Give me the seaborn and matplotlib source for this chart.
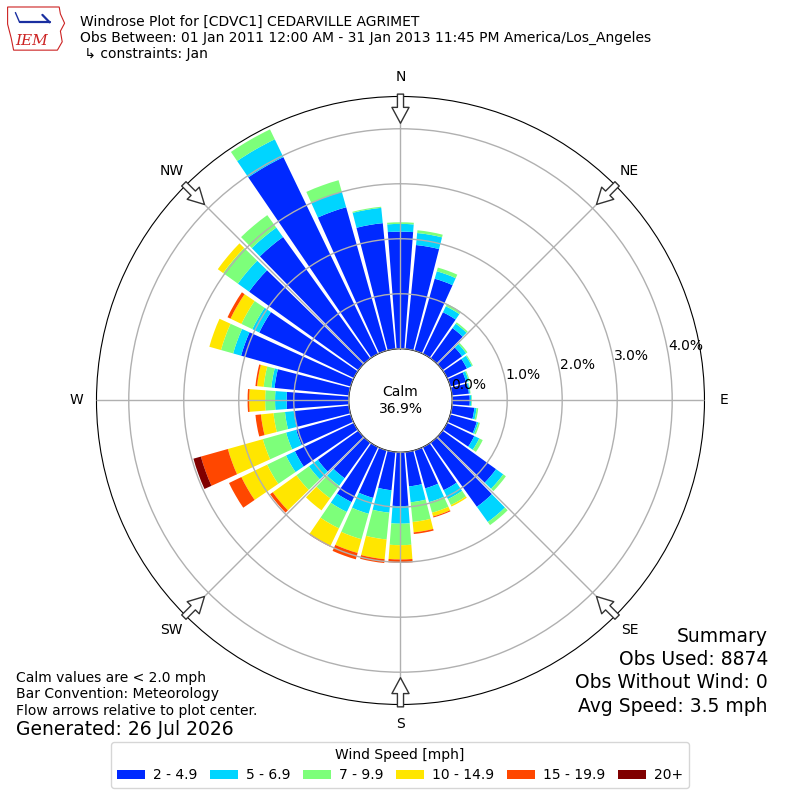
import numpy as np
import matplotlib
matplotlib.use("Agg")
import matplotlib.pyplot as plt
from matplotlib.patches import Polygon
import seaborn as sns

# wind directions (deg, meteorological) and speed bins
directions = list(range(0, 360, 10))
speed_bins = ["2 - 4.9", "5 - 6.9", "7 - 9.9", "10 - 14.9", "15 - 19.9", "20+"]

# percent of observations per direction for each speed bin
pct_2_5 = [2.13, 1.90, 1.36, 0.84, 0.68, 0.44, 0.40, 0.30, 0.31, 0.32, 0.41, 0.50,
           0.55, 1.20, 1.44, 0.87, 0.72, 0.63, 0.98, 0.70, 0.90, 1.11, 0.80, 0.91,
           1.19, 1.03, 1.01, 1.13, 1.36, 2.07, 1.91, 2.45, 2.72, 3.97, 2.71, 2.30]
pct_5_7 = [0.14, 0.22, 0.14, 0.12, 0.10, 0.09, 0.10, 0.05, 0.02, 0.03, 0.04, 0.03,
           0.10, 0.16, 0.34, 0.18, 0.26, 0.29, 0.32, 0.41, 0.30, 0.20, 0.17, 0.20,
           0.18, 0.19, 0.16, 0.21, 0.06, 0.15, 0.14, 0.25, 0.21, 0.36, 0.29, 0.28]
pct_7_10 = [0.03, 0.05, 0.07, 0.05, 0.03, 0.03, 0.02, 0.02, 0.01, 0.01, 0.03, 0.03,
            0.07, 0.06, 0.07, 0.12, 0.20, 0.36, 0.39, 0.49, 0.48, 0.33, 0.28, 0.28,
            0.38, 0.44, 0.21, 0.18, 0.14, 0.23, 0.22, 0.33, 0.28, 0.20, 0.22, 0.02]
pct_10_15 = [0, 0, 0, 0, 0, 0, 0, 0, 0, 0, 0, 0,
             0, 0, 0, 0.03, 0.07, 0.19, 0.26, 0.36, 0.26, 0.35, 0.27, 0.53,
             0.52, 0.66, 0.23, 0.29, 0.12, 0.22, 0.22, 0.12, 0, 0, 0, 0]
pct_15_20 = [0, 0, 0, 0, 0, 0, 0, 0, 0, 0, 0, 0,
             0, 0, 0, 0, 0.02, 0.03, 0.06, 0.07, 0.12, 0.02, 0, 0.06,
             0.25, 0.51, 0.10, 0.03, 0.03, 0, 0.06, 0, 0, 0, 0, 0]
pct_20p = [0, 0, 0, 0, 0, 0, 0, 0, 0, 0, 0, 0,
           0, 0, 0, 0, 0, 0, 0, 0, 0, 0, 0, 0,
           0, 0.14, 0, 0, 0, 0, 0, 0, 0, 0, 0, 0]

calm_pct = 36.9
obs_used = 8874
obs_without_wind = 0
avg_speed = 3.5

compass = ["N", "NE", "E", "SE", "S", "SW", "W", "NW"]

sns.set_style("white")
plt.rcParams["font.family"] = ["DejaVu Sans"]
plt.rcParams["text.color"] = "black"
plt.rcParams["xtick.color"] = "black"
plt.rcParams["ytick.color"] = "black"

colors = plt.get_cmap("jet")(np.linspace(0, 1, 7)[1:])
series = [pct_2_5, pct_5_7, pct_7_10, pct_10_15, pct_15_20, pct_20p]

fig = plt.figure(figsize=(8, 8), dpi=100)
ax = fig.add_axes([0.1206, 0.1194, 0.76, 0.76], projection="polar")
ax.set_theta_zero_location("N")
ax.set_theta_direction(-1)
ax.set_axisbelow(False)

theta = np.deg2rad(directions)
bottom = np.zeros(len(directions))
handles = []
for vals, col, lab in zip(series, colors, speed_bins):
    vals = np.array(vals)
    b = ax.bar(theta, vals, width=np.deg2rad(8.6), bottom=bottom, color=col,
               linewidth=0, label=lab, zorder=2)
    handles.append(b)
    bottom += vals

ax.set_ylim(0, 4.587)
ax.set_rorigin(-0.94)
ax.set_yticks([0, 1, 2, 3, 4])
ax.set_yticklabels([f"{v:.1f}%" for v in [0, 1, 2, 3, 4]], fontsize=10)
ax.set_rlabel_position(80)
ax.set_xticks(np.deg2rad(np.arange(0, 360, 45)))
ax.set_xticklabels([])
ax.grid(True, color="#b0b0b0", lw=1)
ax.spines["polar"].set_color("black")
ax.spines["inner"].set_color("black")

# direction labels and inward flow arrows
for i, name in enumerate(compass):
    th = np.deg2rad(i * 45)
    ax.text(th, 4.95, name, ha="center", va="center", fontsize=10)
    ax.annotate("", xy=(th, 4.10), xytext=(th, 4.63),
                arrowprops=dict(arrowstyle="simple,head_length=0.52,head_width=0.56,tail_width=0.2",
                                mutation_scale=22, fc="white", ec="#333333", lw=1,
                                shrinkA=0, shrinkB=0), zorder=5)

ax.text(0.5, 0.5, f"Calm\n{calm_pct:.1f}%", transform=ax.transAxes,
        ha="center", va="center", fontsize=10)

# header
fig.text(0.1, 0.9675, "Windrose Plot for [CDVC1] CEDARVILLE AGRIMET", fontsize=10, va="baseline")
fig.text(0.1, 0.9475, "Obs Between: 01 Jan 2011 12:00 AM - 31 Jan 2013 11:45 PM America/Los_Angeles",
         fontsize=10, va="baseline")
fig.text(0.1, 0.9275, " \u21b3 constraints: Jan", fontsize=10, va="baseline")

# IEM logo
logo = fig.add_axes([0.008, 0.935, 0.075, 0.058])
logo.set_axis_off()
logo.set_xlim(0, 1)
logo.set_ylim(0, 1)
outline = [(0.02, 0.97), (0.88, 0.97), (0.9, 0.82), (0.97, 0.62), (0.9, 0.45),
           (0.93, 0.22), (0.85, 0.04), (0.12, 0.04), (0.08, 0.3), (0.02, 0.6)]
logo.add_patch(Polygon(outline, closed=True, fill=False, ec="#cc2222", lw=0.8))
logo.plot([0.22, 0.72], [0.64, 0.64], color="#1a2fa0", lw=1.6)
logo.plot([0.6, 0.72], [0.8, 0.64], color="#1a2fa0", lw=1.6)
logo.plot([0.15, 0.22], [0.85, 0.64], color="#1a2fa0", lw=1.0)
logo.text(0.42, 0.24, "IEM", color="#cc2222", fontstyle="italic", family="DejaVu Serif",
          fontsize=11, ha="center", va="center")

# notes
fig.text(0.02, 0.1479, "Calm values are < 2.0 mph", fontsize=10, va="baseline")
fig.text(0.02, 0.1271, "Bar Convention: Meteorology", fontsize=10, va="baseline")
fig.text(0.02, 0.10625, "Flow arrows relative to plot center.", fontsize=10, va="baseline")
fig.text(0.02, 0.08125, "Generated: 26 Jul 2026", fontsize=13.5, va="baseline")

summary = ["Summary", f"Obs Used: {obs_used}", f"Obs Without Wind: {obs_without_wind}",
           f"Avg Speed: {avg_speed} mph"]
for k, line in enumerate(summary):
    fig.text(0.96, 0.1979 - k * 0.02917, line, fontsize=13.5, ha="right", va="baseline")

fig.legend(handles=handles, loc="center", bbox_to_anchor=(0.5, 0.04375), ncol=6,
           title="Wind Speed [mph]", fontsize=10, title_fontsize=10,
           handlelength=2, handletextpad=0.6, columnspacing=0.9)

fig.savefig("out.png", dpi=100)
